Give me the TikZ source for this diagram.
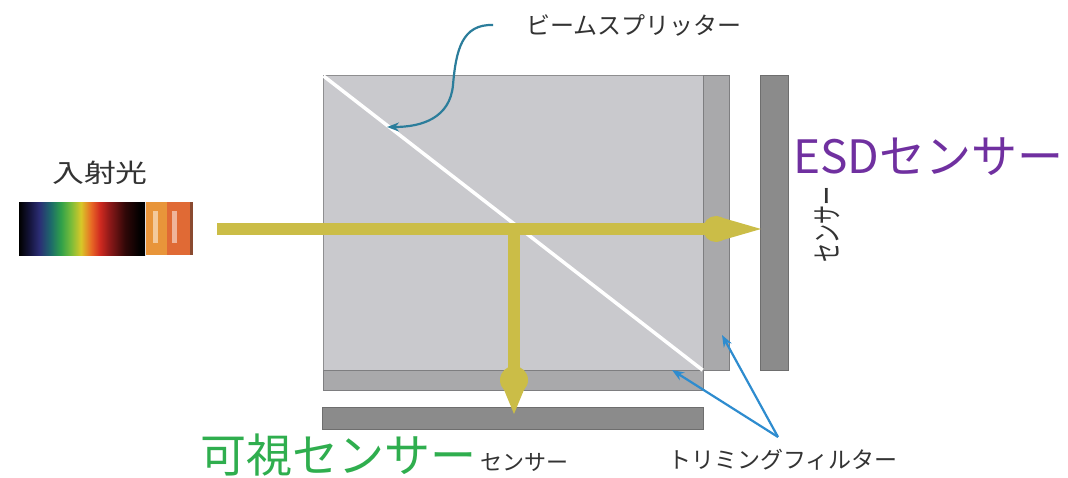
\documentclass[tikz,border=0pt]{standalone}
\usepackage{fontspec}
\newfontfamily\jp{Noto Sans CJK JP}
\usetikzlibrary{arrows.meta}

% colours
\definecolor{cubefill}{HTML}{C9C9CD}
\definecolor{cubeedge}{HTML}{8E8E90}
\definecolor{filtfill}{HTML}{A9A9AB}
\definecolor{filtedge}{HTML}{7E7E80}
\definecolor{sensfill}{HTML}{8B8B8B}
\definecolor{sensedge}{HTML}{6E6E6E}
\definecolor{beamcol}{HTML}{CBBD47}
\definecolor{splitblue}{HTML}{2B7D9B}
\definecolor{trimblue}{HTML}{2E8CCF}
\definecolor{labgray}{HTML}{333333}
\definecolor{esdpurple}{HTML}{7030A0}
\definecolor{visgreen}{HTML}{2FAE4E}
\definecolor{orangeA}{HTML}{E8953A}
\definecolor{orangeB}{HTML}{E06A35}
\definecolor{orangeEdge}{HTML}{8A4A30}

% incoming light spectrum (useful part between 25bp and 75bp)
\pgfdeclarehorizontalshading{spectrum}{100bp}{%
  color(0bp)=(black); color(25bp)=(black);
  color(29bp)=(rgb,255:red,20;green,20;blue,58);
  color(33bp)=(rgb,255:red,43;green,45;blue,117);
  color(37.5bp)=(rgb,255:red,29;green,106;blue,106);
  color(41.5bp)=(rgb,255:red,47;green,160;blue,74);
  color(45.5bp)=(rgb,255:red,120;green,188;blue,58);
  color(49.5bp)=(rgb,255:red,216;green,200;blue,40);
  color(53.5bp)=(rgb,255:red,232;green,106;blue,37);
  color(57bp)=(rgb,255:red,208;green,42;blue,32);
  color(61bp)=(rgb,255:red,138;green,24;blue,24);
  color(67bp)=(rgb,255:red,48;green,8;blue,8);
  color(73bp)=(black); color(100bp)=(black)}

\tikzset{
  block/.style={draw, line width=1.2pt, rectangle, inner sep=0pt, anchor=north west},
  cubebox/.style={block, fill=cubefill, draw=cubeedge},
  filterbox/.style={block, fill=filtfill, draw=filtedge},
  sensorbox/.style={block, fill=sensfill, draw=sensedge},
  beam/.style={draw=beamcol, line width=12pt},
  beamtip/.style={fill=beamcol, draw=none},
  graylabel/.style={text=labgray, inner sep=0pt, font=\jp},
  pointer/.style={line width=2.2pt, -{Stealth[length=12pt,width=9pt]}},
}

\begin{document}
\begin{tikzpicture}[x=1pt,y=-1pt]
\useasboundingbox[fill=white] (0,0) rectangle (1068,478);

% prism cube, filters and sensors
\node[cubebox, minimum width=380pt, minimum height=295pt] (cube) at (322.5,75) {};
\node[filterbox, minimum width=26.5pt, minimum height=295pt] (filtR) at (702.5,75) {};
\node[filterbox, minimum width=380pt, minimum height=20pt] (filtB) at (322.5,370) {};
\node[sensorbox, minimum width=28pt, minimum height=295pt] (sensR) at (760,75) {};
\node[sensorbox, minimum width=381pt, minimum height=22pt] (sensB) at (321.5,407) {};

% beam-splitter surface
\draw[white, line width=3.5pt] ([shift={(1,1)}]cube.north west) -- ([shift={(-1,-1)}]cube.south east);

% incoming spectrum strip with its two orange bands
\node[shade, shading=spectrum, inner sep=0pt, anchor=north west,
      minimum width=126pt, minimum height=53pt] (spec) at (19,202) {};
\node[fill=orangeA, inner sep=0pt, anchor=north west,
      minimum width=21pt, minimum height=53pt] (bandA) at (spec.north east) {};
\node[fill=orangeB, inner sep=0pt, anchor=north west,
      minimum width=23pt, minimum height=53pt] (bandB) at (bandA.north east) {};
\node[fill=orangeEdge, inner sep=0pt, anchor=north west,
      minimum width=3pt, minimum height=53pt] (bandEdge) at (bandB.north east) {};
\fill[white, opacity=0.5] (153,211) rectangle (158,243);
\fill[white, opacity=0.5] (172,211) rectangle (177,243);

% light path
\coordinate (beamin) at (217,229);
\coordinate (split) at (514,223);
\coordinate (esdhit) at (716,229);
\coordinate (vishit) at (514,380);
\draw[beam] (beamin) -- (esdhit);
\draw[beam] (split) -- (vishit);
\fill[beamtip] (esdhit) circle (13pt);
\fill[beamtip] (716,216) -- (761,229) -- (716,242) -- cycle;
\fill[beamtip] (vishit) circle (14pt);
\fill[beamtip] (500,380) -- (514,414) -- (528,380) -- cycle;

% labels
\node[graylabel, font=\jp\fontsize{25.5}{25.5}\selectfont, anchor=west] (inlight) at (52,173) {\scalebox{1.25}[1]{入射光}};
\node[graylabel, font=\jp\fontsize{24}{24}\selectfont, anchor=west] (bslabel) at (526,25) {ビームスプリッター};
\node[graylabel, font=\jp\fontsize{23}{23}\selectfont, anchor=center] (trimlabel) at (783,460) {トリミングフィルター};
\node[graylabel, font=\jp\fontsize{22}{22}\selectfont, anchor=west] (senslabelB) at (480,462) {センサー};
\node[graylabel, font=\jp\fontsize{19}{19}\selectfont, rotate=90] (senslabelR) at (827,225) {\scalebox{1}[1.6]{センサー}};
\node[inner sep=0pt, text=esdpurple, font=\jp\fontsize{46}{46}\selectfont, anchor=west] (esdlabel) at (793,157) {ESDセンサー};
\node[inner sep=0pt, text=visgreen, font=\jp\fontsize{46}{46}\selectfont, anchor=west] (vislabel) at (200,455) {可視センサー};

% pointers
\coordinate (bstarget) at (387,127);
\draw[pointer, splitblue] ([xshift=-33pt]bslabel.west) .. controls (462,24) and (456,50) .. (453,85)
      .. controls (450,118) and (422,127) .. (bstarget);
\coordinate (trimsrc) at (778,437);
\coordinate (trimR) at (722,335);
\coordinate (trimB) at (672,370);
\draw[pointer, trimblue] (trimsrc) -- (trimR);
\draw[pointer, trimblue] (trimsrc) -- (trimB);
\end{tikzpicture}
\end{document}
